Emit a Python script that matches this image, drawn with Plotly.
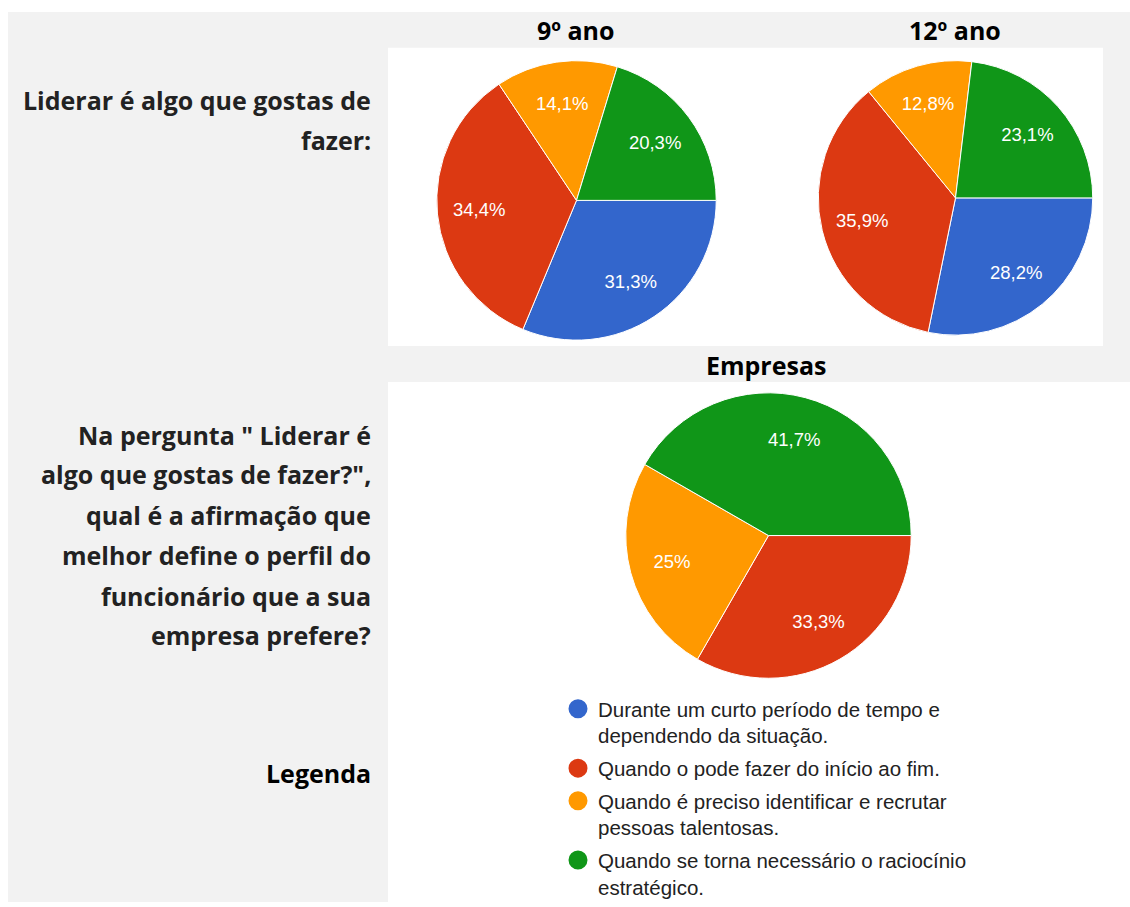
import plotly.graph_objects as go

# ---- data ----
categories = [
    "Durante um curto período de tempo e<br>dependendo da situação.",
    "Quando o pode fazer do início ao fim.",
    "Quando é preciso identificar e recrutar<br>pessoas talentosas.",
    "Quando se torna necessário o raciocínio<br>estratégico.",
]
colors = ["#3366cc", "#dc3912", "#ff9900", "#109618"]
ano9 = [31.3, 34.4, 14.1, 20.3]
ano12 = [28.2, 35.9, 12.8, 23.1]
empresas = [0, 33.3, 25, 41.7]
pie_titles = ["9º ano", "12º ano", "Empresas"]
row1_lines = ["Liderar é algo que gostas de", "fazer:"]
row2_lines = ['Na pergunta " Liderar é', 'algo que gostas de fazer?",',
              "qual é a afirmação que", "melhor define o perfil do",
              "funcionário que a sua", "empresa prefere?"]
legend_label = "Legenda"

W, H = 1130, 907


def px(x):
    return x / W


def py(y):
    return 1 - y / H


def fmt(v):
    if v == 0:
        return ""
    s = f"{v:.1f}".replace(".", ",")
    if s.endswith(",0"):
        s = s[:-2]
    return s + "%"


fig = go.Figure()

# pies: (values, center x, center y, radius) in page pixels
pies = [(ano9, 576.5, 201.5, 140.5), (ano12, 955.5, 199, 138), (empresas, 768.5, 538.5, 143.5)]
for vals, cx, cy, r in pies:
    dom = dict(x=[px(cx - r), px(cx + r)], y=[py(cy + r), py(cy - r)])
    # coloured slices
    fig.add_trace(go.Pie(
        labels=categories, values=vals, textinfo="none",
        marker=dict(colors=colors, line=dict(color="white", width=1)),
        sort=False, direction="clockwise", rotation=90, showlegend=False,
        hoverinfo="label+percent", domain=dom,
    ))
    # percentage labels (ring layer places them at ~70% of the radius)
    fig.add_trace(go.Pie(
        labels=categories, values=vals, text=[fmt(v) for v in vals],
        textinfo="text", textposition="inside", insidetextorientation="horizontal",
        insidetextfont=dict(family="Arial", size=18.5, color="white"),
        marker=dict(colors=["rgba(0,0,0,0)"] * 4, line=dict(width=0)),
        hole=0.4, sort=False, direction="clockwise", rotation=90, showlegend=False,
        hoverinfo="skip", domain=dom,
    ))

# legend entries (circle markers)
for i, (name, c) in enumerate(zip(categories, colors)):
    fig.add_trace(go.Scatter(
        x=[None], y=[None], mode="markers", name=name, legendgroup=str(i),
        marker=dict(color=c, size=16, line=dict(color=c, width=3)),
    ))

shapes = [
    dict(type="rect", xref="paper", yref="paper", x0=px(8), x1=px(1130), y0=py(907), y1=py(12),
         fillcolor="#f2f2f2", line=dict(width=0), layer="below"),
    dict(type="rect", xref="paper", yref="paper", x0=px(388), x1=px(1103), y0=py(348), y1=py(48),
         fillcolor="white", line=dict(width=0), layer="below"),
    dict(type="rect", xref="paper", yref="paper", x0=px(388), x1=px(1130), y0=py(907), y1=py(384),
         fillcolor="white", line=dict(width=0), layer="below"),
]

annotations = []
left_font = dict(family="Open Sans", size=25, color="#222222", weight="bold")
for line, y in zip(row1_lines, [101, 141]):
    annotations.append(dict(text=line, x=px(373), y=py(y), xref="paper", yref="paper",
                            xanchor="right", yanchor="middle", showarrow=False, font=left_font))
for line, y in zip(row2_lines, [437, 477, 518, 558, 599, 639]):
    annotations.append(dict(text=line, x=px(373), y=py(y), xref="paper", yref="paper",
                            xanchor="right", yanchor="middle", showarrow=False, font=left_font))
head_font = dict(family="Open Sans", size=25, color="black", weight="bold")
annotations.append(dict(text=legend_label, x=px(373), y=py(777), xref="paper", yref="paper",
                        xanchor="right", yanchor="middle", showarrow=False, font=head_font))
for t, x, y in zip(pie_titles, [576, 955, 766], [30, 30, 367]):
    annotations.append(dict(text=t, x=px(x), y=py(y), xref="paper", yref="paper",
                            xanchor="center", yanchor="middle", showarrow=False, font=head_font))

fig.update_layout(
    width=W, height=H, margin=dict(l=0, r=0, t=0, b=0),
    paper_bgcolor="white", plot_bgcolor="rgba(0,0,0,0)",
    xaxis=dict(visible=False), yaxis=dict(visible=False),
    shapes=shapes, annotations=annotations,
    legend=dict(x=px(558), y=py(693), xanchor="left", yanchor="top",
                font=dict(family="Arial", size=20.5, color="#222222"),
                valign="top", tracegroupgap=3, traceorder="grouped",
                bgcolor="rgba(0,0,0,0)"),
)

fig.write_html("out.html", config={"displayModeBar": False},
               post_script="document.body.style.margin='0';")
